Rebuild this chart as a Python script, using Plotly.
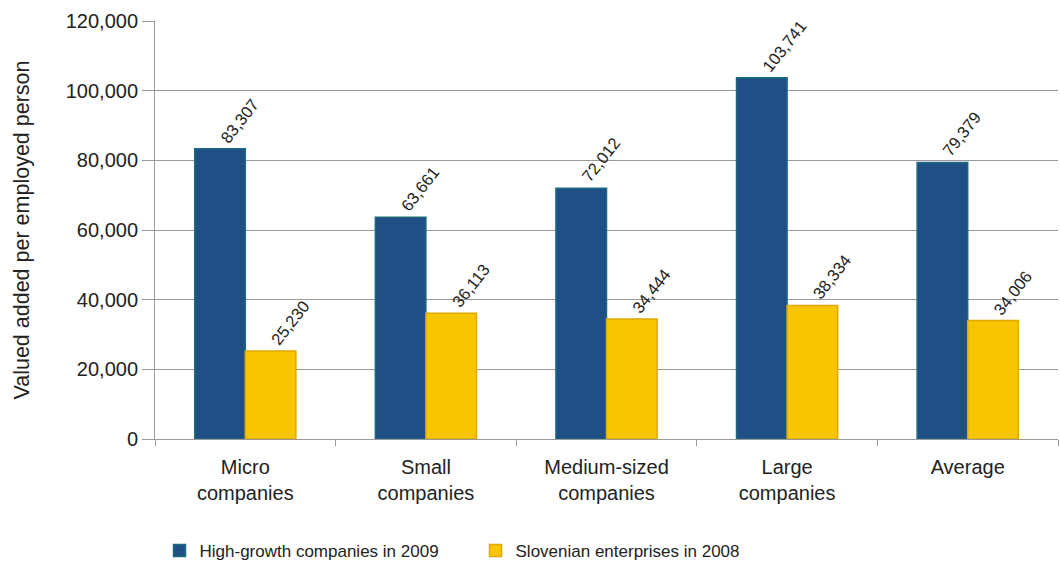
import plotly.graph_objects as go

categories = ["Micro<br>companies", "Small<br>companies", "Medium-sized<br>companies",
              "Large<br>companies", "Average"]
high_growth_2009 = [83307, 63661, 72012, 103741, 79379]
slovenian_2008 = [25230, 36113, 34444, 38334, 34006]
y_ticks = [0, 20000, 40000, 60000, 80000, 100000, 120000]

BLUE = "#1f4f84"
YELLOW = "#f7c600"
FONT = "Liberation Sans, Arial, sans-serif"
BARGAP = 0.44

series = [
    ("High-growth companies in 2009", high_growth_2009, BLUE, "#1b6a80"),
    ("Slovenian enterprises in 2008", slovenian_2008, YELLOW, "#e0a800"),
]

fig = go.Figure()
bar_w = (1 - BARGAP) / len(series)
annotations = []
for k, (name, vals, col, edge) in enumerate(series):
    fig.add_trace(go.Bar(
        x=categories, y=vals, name=name,
        marker=dict(color=col, line=dict(color=edge, width=1.5)),
    ))
    # value labels, rotated, starting at the centre of each bar top
    centre_off = -(1 - BARGAP) / 2 + bar_w * (k + 0.5)
    for i, v in enumerate(vals):
        annotations.append(dict(
            x=i + centre_off, y=v, xref="x", yref="y",
            text=f"{v:,}", showarrow=False, textangle=-52,
            xanchor="left", yanchor="bottom", xshift=-6,
            font=dict(family=FONT, size=16.5, color="#222"),
        ))

fig.update_layout(
    width=1060, height=571,
    margin=dict(l=155, r=2, t=21, b=132),
    paper_bgcolor="white", plot_bgcolor="white",
    barmode="group", bargap=BARGAP, bargroupgap=0,
    font=dict(family=FONT, size=20, color="#222"),
    showlegend=True,
    legend=dict(orientation="h", x=0.005, y=-0.268, xanchor="left", yanchor="middle",
                font=dict(size=17), entrywidth=271, itemwidth=30,
                bgcolor="rgba(0,0,0,0)"),
    annotations=annotations,
    xaxis=dict(showline=True, linecolor="#999", linewidth=1,
               ticks="outside", tickcolor="#999", ticklen=6,
               tickson="boundaries", showgrid=False,
               ticklabelstandoff=10,
               tickfont=dict(size=20)),
    yaxis=dict(range=[0, 120000], tickvals=y_ticks,
               ticktext=[f"{v:,}" for v in y_ticks],
               showline=True, linecolor="#999", linewidth=1,
               ticks="outside", tickcolor="#999", ticklen=12,
               gridcolor="#999", gridwidth=1, zeroline=False,
               tickfont=dict(size=20),
               title=dict(text="Valued added per employed person",
                          font=dict(size=21.5), standoff=30)),
)

fig.write_html("out.html")
